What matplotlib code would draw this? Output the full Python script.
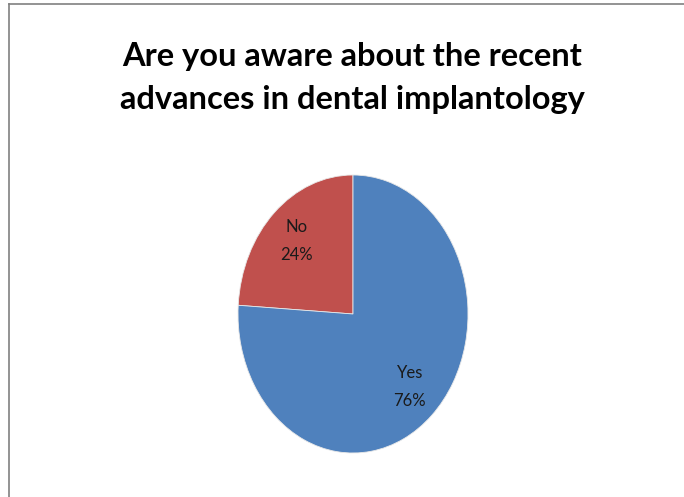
import matplotlib
matplotlib.use("Agg")
import matplotlib.pyplot as plt
from matplotlib.lines import Line2D

labels = ["No", "Yes"]
values = [24, 76]
colors = ["#C0504D", "#4F81BD"]
title = "Are you aware about the recent\nadvances in dental implantology"

plt.rcParams['font.family'] = ['Lato', 'DejaVu Sans']

fig = plt.figure(figsize=(6.84, 4.97), dpi=100)

# chart frame (only top and left edges are visible in the reference)
fig.add_artist(Line2D([9 / 684, 9 / 684], [0, 1 - 4 / 497], color="#808080", lw=1.2))
fig.add_artist(Line2D([9 / 684, 1], [1 - 4 / 497, 1 - 4 / 497], color="#808080", lw=1.2))

fig.text(352 / 684, 1 - 78 / 497, title, ha="center", va="center",
         fontsize=23.5, fontweight="bold", linespacing=1.55)

ax = fig.add_axes([238 / 684, 44 / 497, 230 / 684, 278 / 497])


def fmt(pct):
    i = min(range(len(values)), key=lambda k: abs(values[k] - pct))
    return f"{labels[i]}\n{pct:.0f}%"


ax.pie(values, colors=colors, startangle=90, counterclock=True,
       autopct=fmt, pctdistance=0.72,
       textprops=dict(fontsize=12, linespacing=1.9, color="#1a1a1a"),
       wedgeprops=dict(linewidth=0.6, edgecolor="#e8e8e8"))
ax.set_aspect("auto")
ax.set_xlim(-1, 1)
ax.set_ylim(-1, 1)

fig.savefig("out.png", dpi=100)
